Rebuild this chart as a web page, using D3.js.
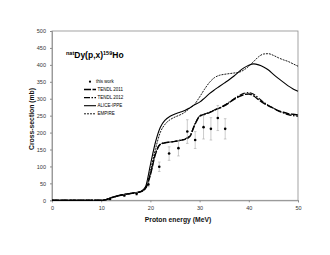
<!DOCTYPE html>
<html>
<head>
<meta charset="utf-8">
<script src="https://cdn.jsdelivr.net/npm/d3@7"></script>
<style>
body { margin: 0; background: #fff; }
svg text { font-family: "Liberation Sans", Arial, sans-serif; }
</style>
</head>
<body>
<svg id="chart" width="330" height="255"></svg>
<script>
const svg = d3.select('#chart')

// data
const energies = [0, 10, 11, 12, 14, 16, 18, 19, 20, 21, 22, 23, 24, 25, 26, 27, 28, 29, 30, 31, 32, 33, 34, 35, 36, 37, 38, 39, 40, 41, 42, 43, 44, 45, 46, 47, 48, 49, 50]
const tendl2011 = [0, 0, 2, 7, 15, 20, 25, 35, 75, 135, 165, 170, 172, 174, 177, 180, 188, 222, 248, 254, 259, 266, 272, 279, 288, 298, 306, 312, 314, 308, 297, 287, 279, 272, 265, 260, 256, 254, 252]
const tendl2012 = [0, 0, 2, 7, 15, 20, 25, 35, 78, 138, 166, 170, 172, 174, 177, 181, 190, 224, 249, 255, 260, 267, 273, 281, 290, 300, 309, 316, 318, 313, 302, 290, 280, 272, 264, 258, 253, 250, 248]
const alice = [0, 0, 2, 8, 16, 21, 26, 40, 105, 170, 215, 237, 248, 255, 260, 265, 273, 282, 290, 302, 315, 326, 336, 346, 356, 367, 380, 391, 399, 403, 400, 394, 385, 372, 360, 349, 338, 329, 322]
const empire = [0, 0, 2, 7, 15, 20, 25, 35, 88, 150, 200, 225, 238, 246, 252, 260, 272, 284, 305, 328, 348, 362, 369, 372, 374, 376, 378, 385, 396, 410, 424, 432, 433, 428, 421, 415, 410, 403, 396]

const expE = [11.8, 14.7, 17.2, 19.6, 21.8, 23.8, 25.7, 27.5, 29.1, 30.8, 32.3, 33.7, 35.2]
const expXs = [4, 14, 19, 47, 99, 138, 154, 203, 178, 216, 211, 243, 211]
const expErr = [2, 3, 4, 7, 14, 20, 23, 35, 25, 35, 33, 37, 30]

const xTicks = [0, 10, 20, 30, 40, 50]
const yTicks = [0, 50, 100, 150, 200, 250, 300, 350, 400, 450, 500]

const x = d3.scaleLinear().domain([0, 50]).range([52, 298])
const y = d3.scaleLinear().domain([0, 500]).range([200.3, 31])

// frame
svg.append('rect')
  .attr('x', x(0)).attr('y', y(500))
  .attr('width', x(50) - x(0)).attr('height', y(0) - y(500))
  .attr('fill', 'none').attr('stroke', '#8c8c8c').attr('stroke-width', 0.8)

const xAxis = svg.append('g')
  .attr('transform', `translate(0,${y(0)})`)
  .call(d3.axisBottom(x).tickValues(xTicks).tickSize(2).tickPadding(4))
const yAxis = svg.append('g')
  .attr('transform', `translate(${x(0)},0)`)
  .call(d3.axisLeft(y).tickValues(yTicks).tickSize(2).tickPadding(4))

svg.selectAll('.domain').attr('stroke', '#8c8c8c').attr('stroke-width', 0.8)
svg.selectAll('.tick line').attr('stroke', '#8c8c8c')
svg.selectAll('.tick text')
  .attr('font-size', '5.5px').attr('fill', '#333')
  .style('font-family', '"Liberation Sans", Arial, sans-serif')

// axis titles
svg.append('text')
  .attr('x', 178).attr('y', 222)
  .attr('text-anchor', 'middle')
  .attr('font-size', '6.8px').attr('font-weight', 'bold').attr('fill', '#111')
  .text('Proton energy (MeV)')

svg.append('text')
  .attr('transform', `translate(34,119) rotate(-90)`)
  .attr('text-anchor', 'middle')
  .attr('font-size', '6.8px').attr('font-weight', 'bold').attr('fill', '#111')
  .text('Cross-section (mb)')

// reaction title
const title = svg.append('text')
  .attr('x', 66).attr('y', 58)
  .attr('font-size', '8.5px').attr('font-weight', 'bold')
title.append('tspan').attr('font-size', '5.5px').attr('dy', -3).text('nat')
title.append('tspan').attr('dy', 3).text('Dy(p,x)')
title.append('tspan').attr('font-size', '5.5px').attr('dy', -3).text('159')
title.append('tspan').attr('dy', 3).text('Ho')

// model curves
const series = [
  { name: 'TENDL 2011', vals: tendl2011, dash: '7,1.5', w: 1.4 },
  { name: 'TENDL 2012', vals: tendl2012, dash: '6,1.5,1.5,1.5', w: 1.1 },
  { name: 'ALICE-IPPE', vals: alice, dash: null, w: 1.1 },
  { name: 'EMPIRE', vals: empire, dash: '2,1', w: 0.9 }
]

const line = d3.line()
  .x((d, i) => x(energies[i]))
  .y(d => y(d))
  .curve(d3.curveMonotoneX)

series.forEach(s => {
  svg.append('path')
    .datum(s.vals)
    .attr('d', line)
    .attr('fill', 'none')
    .attr('stroke', '#000')
    .attr('stroke-width', s.w)
    .attr('stroke-dasharray', s.dash)
})

// experimental points
const pts = svg.selectAll('g.pt')
  .data(expE.map((e, i) => ({ e, v: expXs[i], err: expErr[i] })))
  .enter().append('g').attr('class', 'pt')

pts.append('line')
  .attr('x1', d => x(d.e)).attr('x2', d => x(d.e))
  .attr('y1', d => y(d.v - d.err)).attr('y2', d => y(d.v + d.err))
  .attr('stroke', '#aaa').attr('stroke-width', 0.6)
pts.append('line')
  .attr('x1', d => x(d.e) - 1.3).attr('x2', d => x(d.e) + 1.3)
  .attr('y1', d => y(d.v + d.err)).attr('y2', d => y(d.v + d.err))
  .attr('stroke', '#aaa').attr('stroke-width', 0.6)
pts.append('line')
  .attr('x1', d => x(d.e) - 1.3).attr('x2', d => x(d.e) + 1.3)
  .attr('y1', d => y(d.v - d.err)).attr('y2', d => y(d.v - d.err))
  .attr('stroke', '#aaa').attr('stroke-width', 0.6)
pts.append('circle')
  .attr('cx', d => x(d.e)).attr('cy', d => y(d.v))
  .attr('r', 1.3).attr('fill', '#000')

// legend
const legend = svg.append('g')
legend.append('circle').attr('cx', 90).attr('cy', 81.7).attr('r', 1.1).attr('fill', '#000')
legend.append('text').attr('x', 96).attr('y', 83.3).attr('font-size', '4.5px').text('this work')

series.forEach((s, i) => {
  const ly = 89.5 + i * 8.1
  legend.append('line')
    .attr('x1', 84).attr('x2', 96).attr('y1', ly).attr('y2', ly)
    .attr('stroke', '#000')
    .attr('stroke-width', s.w)
    .attr('stroke-dasharray', s.dash)
  legend.append('text')
    .attr('x', 97.5).attr('y', ly + 1.6)
    .attr('font-size', '4.5px')
    .text(s.name)
})
</script>
</body>
</html>
